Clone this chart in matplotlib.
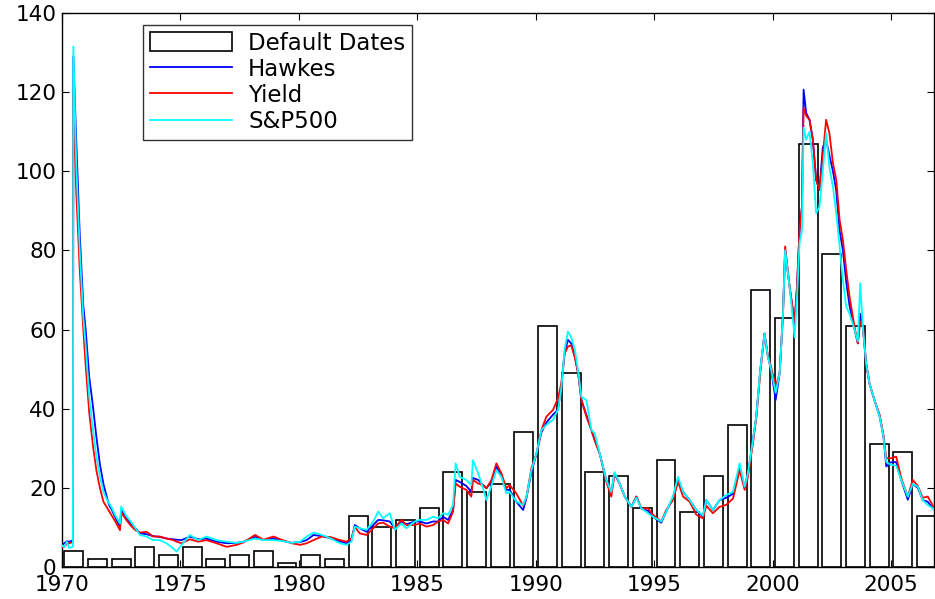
import numpy as np
import matplotlib.pyplot as plt

plt.rcParams['font.family'] = ['DejaVu Sans']

# ─── Yearly default counts ────────────────────────────────────────────────────
years = [1970, 1971, 1972, 1973, 1974, 1975, 1976, 1977, 1978, 1979,
         1980, 1981, 1982, 1983, 1984, 1985, 1986, 1987, 1988, 1989,
         1990, 1991, 1992, 1993, 1994, 1995, 1996, 1997, 1998, 1999,
         2000, 2001, 2002, 2003, 2004, 2005, 2006]
defaults = [4, 2, 2, 5, 3, 5, 2, 3, 4, 1,
            3, 2, 13, 10, 12, 15, 24, 19, 21, 34,
            61, 49, 24, 23, 15, 27, 14, 23, 36, 70,
            63, 107, 79, 61, 31, 29, 13]

# ─── Fitted intensities (time, Hawkes, Yield, S&P500) ────────────────────────
t = [1970.00, 1970.10, 1970.20, 1970.30, 1970.40, 1970.46, 1970.48, 1970.60,
     1970.75, 1970.90, 1971.00, 1971.15, 1971.30, 1971.45, 1971.60, 1971.75,
     1971.90, 1972.00, 1972.10, 1972.25, 1972.45, 1972.50, 1972.70, 1972.90,
     1973.10, 1973.29, 1973.57, 1973.85, 1974.13, 1974.41, 1974.70, 1974.84,
     1975.05, 1975.40, 1975.75, 1976.10, 1976.53, 1976.95, 1977.37, 1977.66,
     1978.15, 1978.50, 1978.93, 1979.35, 1979.70, 1980.05, 1980.33, 1980.62,
     1980.97, 1981.32, 1981.73, 1982.01, 1982.22, 1982.36, 1982.57, 1982.86,
     1983.14, 1983.35, 1983.56, 1983.84, 1984.05, 1984.33, 1984.54, 1984.89,
     1985.10, 1985.39, 1985.67, 1985.88, 1986.09, 1986.30, 1986.51, 1986.62,
     1986.79, 1987.07, 1987.28, 1987.35, 1987.57, 1987.78, 1987.92, 1988.13,
     1988.34, 1988.55, 1988.76, 1988.90, 1989.18, 1989.47, 1989.61, 1989.82,
     1990.03, 1990.24, 1990.45, 1990.73, 1990.94, 1991.08, 1991.22, 1991.36,
     1991.50, 1991.65, 1991.79, 1991.93, 1992.14, 1992.35, 1992.49, 1992.70,
     1992.98, 1993.19, 1993.33, 1993.54, 1993.76, 1994.04, 1994.25, 1994.46,
     1994.74, 1994.95, 1995.30, 1995.51, 1995.79, 1996.01, 1996.22, 1996.50,
     1996.78, 1997.06, 1997.20, 1997.48, 1997.76, 1998.04, 1998.33, 1998.61,
     1998.82, 1998.96, 1999.17, 1999.31, 1999.48, 1999.66, 1999.80, 1999.94,
     2000.13, 2000.30, 2000.44, 2000.53, 2000.72, 2000.93, 2001.03, 2001.14,
     2001.24, 2001.31, 2001.42, 2001.56, 2001.70, 2001.84, 2001.98, 2002.12,
     2002.26, 2002.40, 2002.55, 2002.69, 2002.83, 2002.97, 2003.11, 2003.25,
     2003.46, 2003.60, 2003.70, 2003.81, 2003.95, 2004.09, 2004.30, 2004.52,
     2004.68, 2004.80, 2005.01, 2005.22, 2005.43, 2005.71, 2005.92, 2006.13,
     2006.34, 2006.55, 2006.77, 2006.83]

hawkes = [5.5, 6.0, 6.5, 6.4, 6.6, 6.8, 129, 108,
          84, 66, 60, 48, 41, 33, 26, 21,
          17.5, 15.5, 14.5, 12.5, 10.2, 14.5, 12.5, 11.0,
          9.8, 8.5, 8.3, 7.8, 7.6, 7.2, 7.0, 6.9,
          6.8, 7.7, 7.0, 7.2, 6.4, 6.0, 6.1, 6.4,
          7.6, 6.8, 7.2, 6.6, 6.1, 6.3, 6.8, 8.1,
          7.8, 7.3, 6.5, 6.0, 6.8, 10.6, 9.8, 8.9,
          10.6, 11.9, 11.8, 11.5, 9.8, 11.5, 10.8, 11.5,
          11.5, 11.0, 11.5, 11.5, 12.7, 11.9, 14.4, 22.0,
          21.5, 20.5, 19.0, 22.5, 22.0, 20.7, 19.9, 21.5,
          25.4, 23.0, 19.5, 19.5, 16.5, 14.4, 17.5, 24.0,
          28.5, 34.0, 36.5, 38.5, 39.7, 45.5, 54.0, 57.4,
          56.5, 53.2, 49.0, 42.2, 38.4, 34.6, 32.1, 28.7,
          22.0, 19.0, 23.7, 21.1, 17.8, 15.2, 17.8, 14.8,
          14.2, 12.7, 11.2, 14.0, 17.5, 22.0, 19.0, 16.9,
          14.4, 12.7, 16.9, 14.4, 16.9, 17.5, 18.5, 25.0,
          20.3, 23.7, 32.0, 38.0, 49.8, 59.0, 53.2, 49.8,
          42.2, 49.0, 64.0, 80.0, 70.8, 61.6, 70.8, 85.2,
          91.0, 120.6, 114.7, 113.0, 108.0, 97.8, 95.3, 106.0,
          108.0, 104.0, 100.0, 95.0, 85.0, 80.0, 72.0, 66.0,
          60.0, 56.5, 64.0, 60.7, 51.5, 46.4, 42.2, 38.0,
          33.0, 25.4, 26.5, 26.5, 22.0, 17.0, 21.0, 20.0,
          16.9, 16.5, 14.8, 14.5]

yield_ = [5.0, 5.2, 5.8, 6.0, 6.2, 6.3, 120, 95,
          75, 60, 51, 39, 31, 24.5, 20, 16.5,
          15.0, 14.0, 13.0, 11.5, 9.3, 13.8, 12.0, 10.5,
          9.3, 8.7, 8.9, 7.7, 7.7, 7.2, 6.8, 6.4,
          6.0, 7.0, 6.4, 6.8, 6.0, 5.1, 5.6, 6.2,
          8.1, 6.9, 7.7, 6.7, 6.0, 5.6, 6.0, 6.8,
          7.7, 7.6, 6.8, 6.4, 7.2, 10.2, 8.5, 8.1,
          9.8, 11.0, 11.2, 10.2, 9.8, 11.9, 10.6, 10.6,
          11.0, 10.2, 10.6, 11.5, 11.9, 11.0, 14.0, 21.1,
          20.3, 19.5, 17.8, 22.0, 21.1, 20.7, 19.9, 22.0,
          26.2, 23.7, 19.9, 20.7, 18.6, 15.5, 17.8, 25.0,
          28.7, 34.6, 38.0, 39.7, 42.6, 46.4, 54.0, 55.7,
          56.0, 53.0, 49.0, 42.2, 38.0, 34.6, 32.0, 28.7,
          21.6, 17.8, 23.5, 21.1, 17.8, 15.2, 17.8, 14.8,
          14.8, 13.2, 11.5, 14.4, 16.9, 21.5, 17.8, 16.5,
          13.2, 12.3, 15.5, 13.6, 15.2, 15.7, 17.3, 24.5,
          19.5, 22.8, 31.2, 37.5, 49.0, 59.0, 53.5, 50.5,
          45.6, 49.0, 64.0, 81.0, 70.8, 62.0, 70.8, 85.2,
          91.0, 116.0, 114.0, 113.0, 108.0, 97.8, 95.3, 103.7,
          113.0, 109.6, 102.0, 97.8, 87.7, 82.6, 75.0, 68.3,
          60.7, 56.5, 62.0, 60.7, 51.5, 46.4, 42.2, 38.5,
          33.5, 27.5, 27.5, 27.9, 22.5, 17.8, 22.0, 20.5,
          17.5, 17.8, 15.5, 15.0]

sp500 = [5.5, 5.0, 6.4, 4.8, 5.0, 5.2, 131.5, 102,
         80, 63, 56, 43, 35, 28, 23, 19,
         17.0, 16.0, 15.0, 13.0, 11.0, 15.3, 13.0, 11.5,
         9.8, 8.1, 7.7, 6.8, 6.8, 6.0, 4.7, 3.9,
         5.6, 8.1, 6.8, 7.7, 6.8, 6.4, 6.1, 6.4,
         7.2, 6.8, 6.8, 6.5, 6.1, 6.4, 7.7, 8.7,
         8.1, 7.3, 6.0, 5.6, 6.4, 10.2, 9.8, 9.4,
         11.5, 14.0, 12.3, 13.6, 9.4, 11.0, 9.8, 11.5,
         11.9, 11.9, 12.7, 12.3, 13.6, 13.2, 15.7, 26.2,
         22.8, 22.0, 20.7, 27.0, 23.7, 19.9, 16.9, 20.5,
         24.5, 22.8, 18.6, 19.0, 16.5, 15.7, 17.8, 24.5,
         28.7, 34.6, 35.9, 37.2, 39.7, 45.0, 55.0, 59.5,
         58.0, 55.0, 49.5, 43.0, 42.2, 34.6, 33.8, 28.7,
         22.0, 19.0, 24.0, 21.1, 17.8, 15.2, 17.5, 14.8,
         13.6, 12.7, 11.5, 14.0, 17.8, 22.8, 19.0, 16.9,
         14.4, 13.0, 16.9, 14.4, 16.9, 18.2, 19.0, 26.2,
         20.3, 23.7, 32.1, 38.0, 49.8, 59.0, 53.2, 49.8,
         44.0, 49.0, 64.0, 80.0, 70.8, 58.0, 68.0, 82.0,
         85.0, 111.0, 108.0, 110.0, 102.0, 89.4, 91.0, 100.0,
         109.6, 101.0, 96.0, 89.4, 81.0, 72.5, 65.8, 64.0,
         60.0, 57.0, 71.7, 60.7, 51.5, 46.4, 42.2, 38.0,
         33.0, 26.5, 25.8, 25.6, 22.0, 17.8, 21.0, 20.3,
         16.9, 15.7, 14.8, 14.5]

# ─── Plot ────────────────────────────────────────────────────────────────────
fig = plt.figure(figsize=(9.35, 5.99), dpi=100)
ax = fig.add_axes([0.0663, 0.0534, 0.933, 0.925])

bars = ax.bar(np.array(years) + 0.5, defaults, width=0.8, color='white',
              edgecolor='black', linewidth=1.2, zorder=1)
l_h, = ax.plot(t, hawkes, color=(0, 0, 1), lw=1.3, zorder=2)
l_y, = ax.plot(t, yield_, color=(1, 0, 0), lw=1.3, zorder=3)
l_s, = ax.plot(t, sp500, color=(0, 1, 1), lw=1.3, zorder=4)

ax.set_xlim(1970, 2006.83)
ax.set_ylim(0, 140)
ax.set_xticks(range(1970, 2006, 5))
ax.set_yticks(range(0, 141, 20))
ax.tick_params(direction='in', top=True, right=True, length=5, width=0.8,
               labelsize=15.5)
ax.tick_params(axis='x', pad=6)
ax.tick_params(axis='y', pad=4)
for sp in ax.spines.values():
    sp.set_linewidth(1.0)

leg = ax.legend([bars, l_h, l_y, l_s],
                ['Default Dates', 'Hawkes', 'Yield', 'S&P500'],
                loc='upper left', bbox_to_anchor=(0.093, 0.978),
                borderaxespad=0, fontsize=16.5, frameon=True, fancybox=False,
                edgecolor='black', handlelength=3.6, handleheight=0.85,
                labelspacing=0.14, handletextpad=0.7, borderpad=0.28)
leg.get_frame().set_linewidth(1.0)

plt.savefig('out.png', dpi=100)
